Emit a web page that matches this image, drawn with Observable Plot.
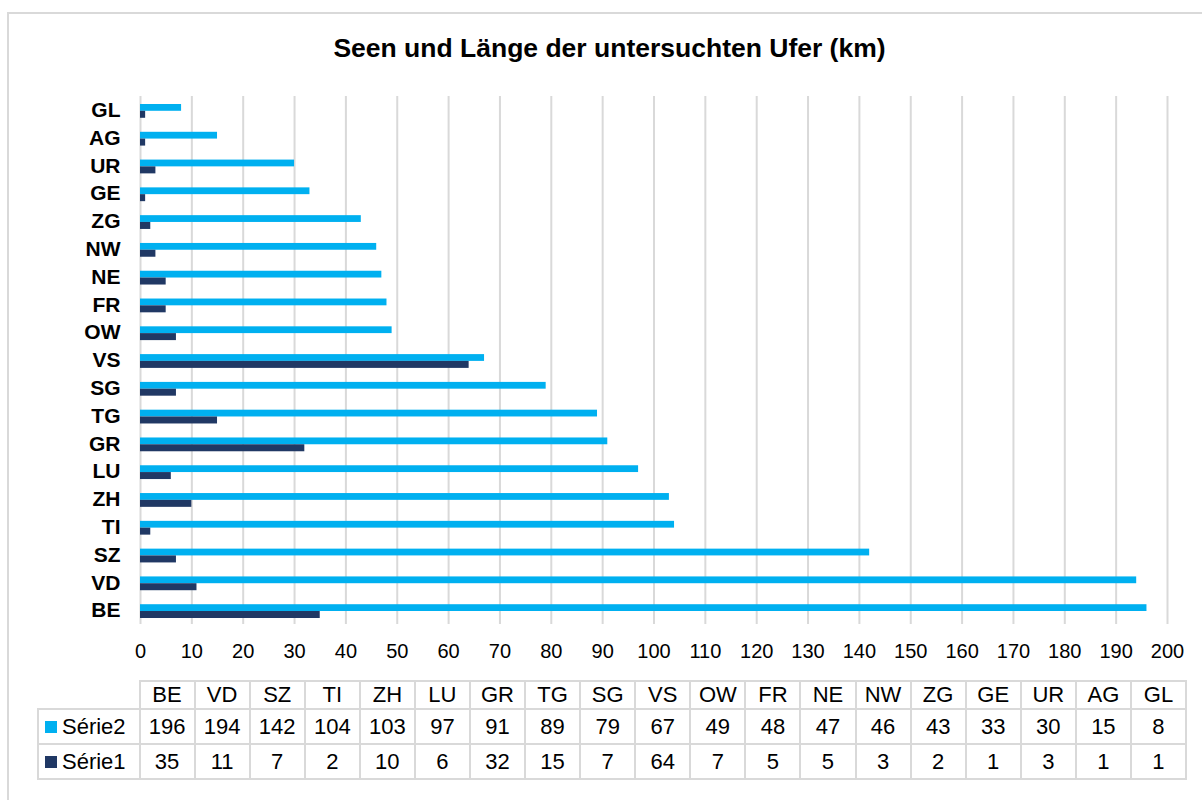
<!DOCTYPE html>
<html>
<head>
<meta charset="utf-8">
<script src="https://cdn.jsdelivr.net/npm/d3@7"></script>
<script src="https://cdn.jsdelivr.net/npm/@observablehq/plot@0.6"></script>
<style>
  html, body { margin: 0; padding: 0; background: #fff; }
  body { width: 1202px; height: 800px; position: relative; overflow: hidden; font-family: "Liberation Sans", Arial, sans-serif; }
  #frame { position: absolute; left: 7px; top: 12px; width: 1300px; height: 900px; border: 2px solid #d9d9d9; box-sizing: border-box; }
  #title { position: absolute; left: 0; width: 1219px; top: 35px; text-align: center; font-size: 26.5px; font-weight: bold; line-height: 1; color: #000; }
  #chart { position: absolute; left: 0; top: 0; }
  #tbl { position: absolute; left: 37px; top: 680px; border-collapse: collapse; table-layout: fixed; font-size: 22px; color: #000; }
  #tbl td { border: 2px solid #d9d9d9; text-align: center; padding: 0; white-space: nowrap; }
  #tbl td.leg { text-align: left; padding-left: 6px; }
  #tbl td.empty { border-top: none; border-left: none; }
  #tbl tr.hdr td { height: 25px; }
  #tbl tr.row td { height: 33px; }
  .sw { display: inline-block; width: 12px; height: 12px; margin-right: 5px; vertical-align: 1px; }
</style>
</head>
<body>
<div id="frame"></div>
<div id="title">Seen und Länge der untersuchten Ufer (km)</div>
<div id="chart"></div>
<table id="tbl"></table>
<script>
const categories = ["BE","VD","SZ","TI","ZH","LU","GR","TG","SG","VS","OW","FR","NE","NW","ZG","GE","UR","AG","GL"];
const serie2 = [196,194,142,104,103,97,91,89,79,67,49,48,47,46,43,33,30,15,8];
const serie1 = [35,11,7,2,10,6,32,15,7,64,7,5,5,3,2,1,3,1,1];
const seriesNames = ["Série2","Série1"];
const seriesColors = ["#00B0F0","#203864"];
const xTicks = [0,10,20,30,40,50,60,70,80,90,100,110,120,130,140,150,160,170,180,190,200];

const data2 = categories.map((c, i) => ({cat: c, value: serie2[i], series: seriesNames[0]}));
const data1 = categories.map((c, i) => ({cat: c, value: serie1[i], series: seriesNames[1]}));

const chart = Plot.plot({
  width: 1202,
  height: 670,
  marginLeft: 140,
  marginRight: 35,
  marginTop: 96,
  marginBottom: 46,
  style: {fontFamily: "'Liberation Sans', Arial, sans-serif", background: "transparent", color: "#000"},
  x: {domain: [0, 200], ticks: xTicks, label: null},
  y: {domain: [...categories].reverse(), padding: 0, round: false, label: null},
  marks: [
    Plot.ruleX(xTicks, {stroke: "#d9d9d9", strokeWidth: 2}),
    Plot.barX(data2, {x: "value", y: "cat", fill: seriesColors[0], insetTop: 8, insetBottom: 13}),
    Plot.barX(data1, {x: "value", y: "cat", fill: seriesColors[1], insetTop: 14.8, insetBottom: 6}),
    Plot.axisX({ticks: xTicks, tickSize: 0, tickPadding: 19, fontSize: 20, tickFormat: d => String(d), label: null}),
    Plot.axisY({tickSize: 0, tickPadding: 20, fontSize: 21, fontWeight: "bold", label: null})
  ]
});
document.getElementById("chart").appendChild(chart);

// data table below the chart
const tbl = document.getElementById("tbl");
const colg = document.createElement("colgroup");
const c0 = document.createElement("col"); c0.style.width = "101.5px"; colg.appendChild(c0);
categories.forEach(() => { const c = document.createElement("col"); c.style.width = "55.08px"; colg.appendChild(c); });
tbl.appendChild(colg);
const hdr = document.createElement("tr"); hdr.className = "hdr";
const e = document.createElement("td"); e.className = "empty"; hdr.appendChild(e);
categories.forEach(c => { const td = document.createElement("td"); td.textContent = c; hdr.appendChild(td); });
tbl.appendChild(hdr);
[[seriesNames[0], serie2, seriesColors[0]], [seriesNames[1], serie1, seriesColors[1]]].forEach(([name, vals, col]) => {
  const tr = document.createElement("tr"); tr.className = "row";
  const lg = document.createElement("td"); lg.className = "leg";
  const sw = document.createElement("span"); sw.className = "sw"; sw.style.background = col;
  lg.appendChild(sw); lg.appendChild(document.createTextNode(name));
  tr.appendChild(lg);
  vals.forEach(v => { const td = document.createElement("td"); td.textContent = v; tr.appendChild(td); });
  tbl.appendChild(tr);
});
</script>
</body>
</html>
